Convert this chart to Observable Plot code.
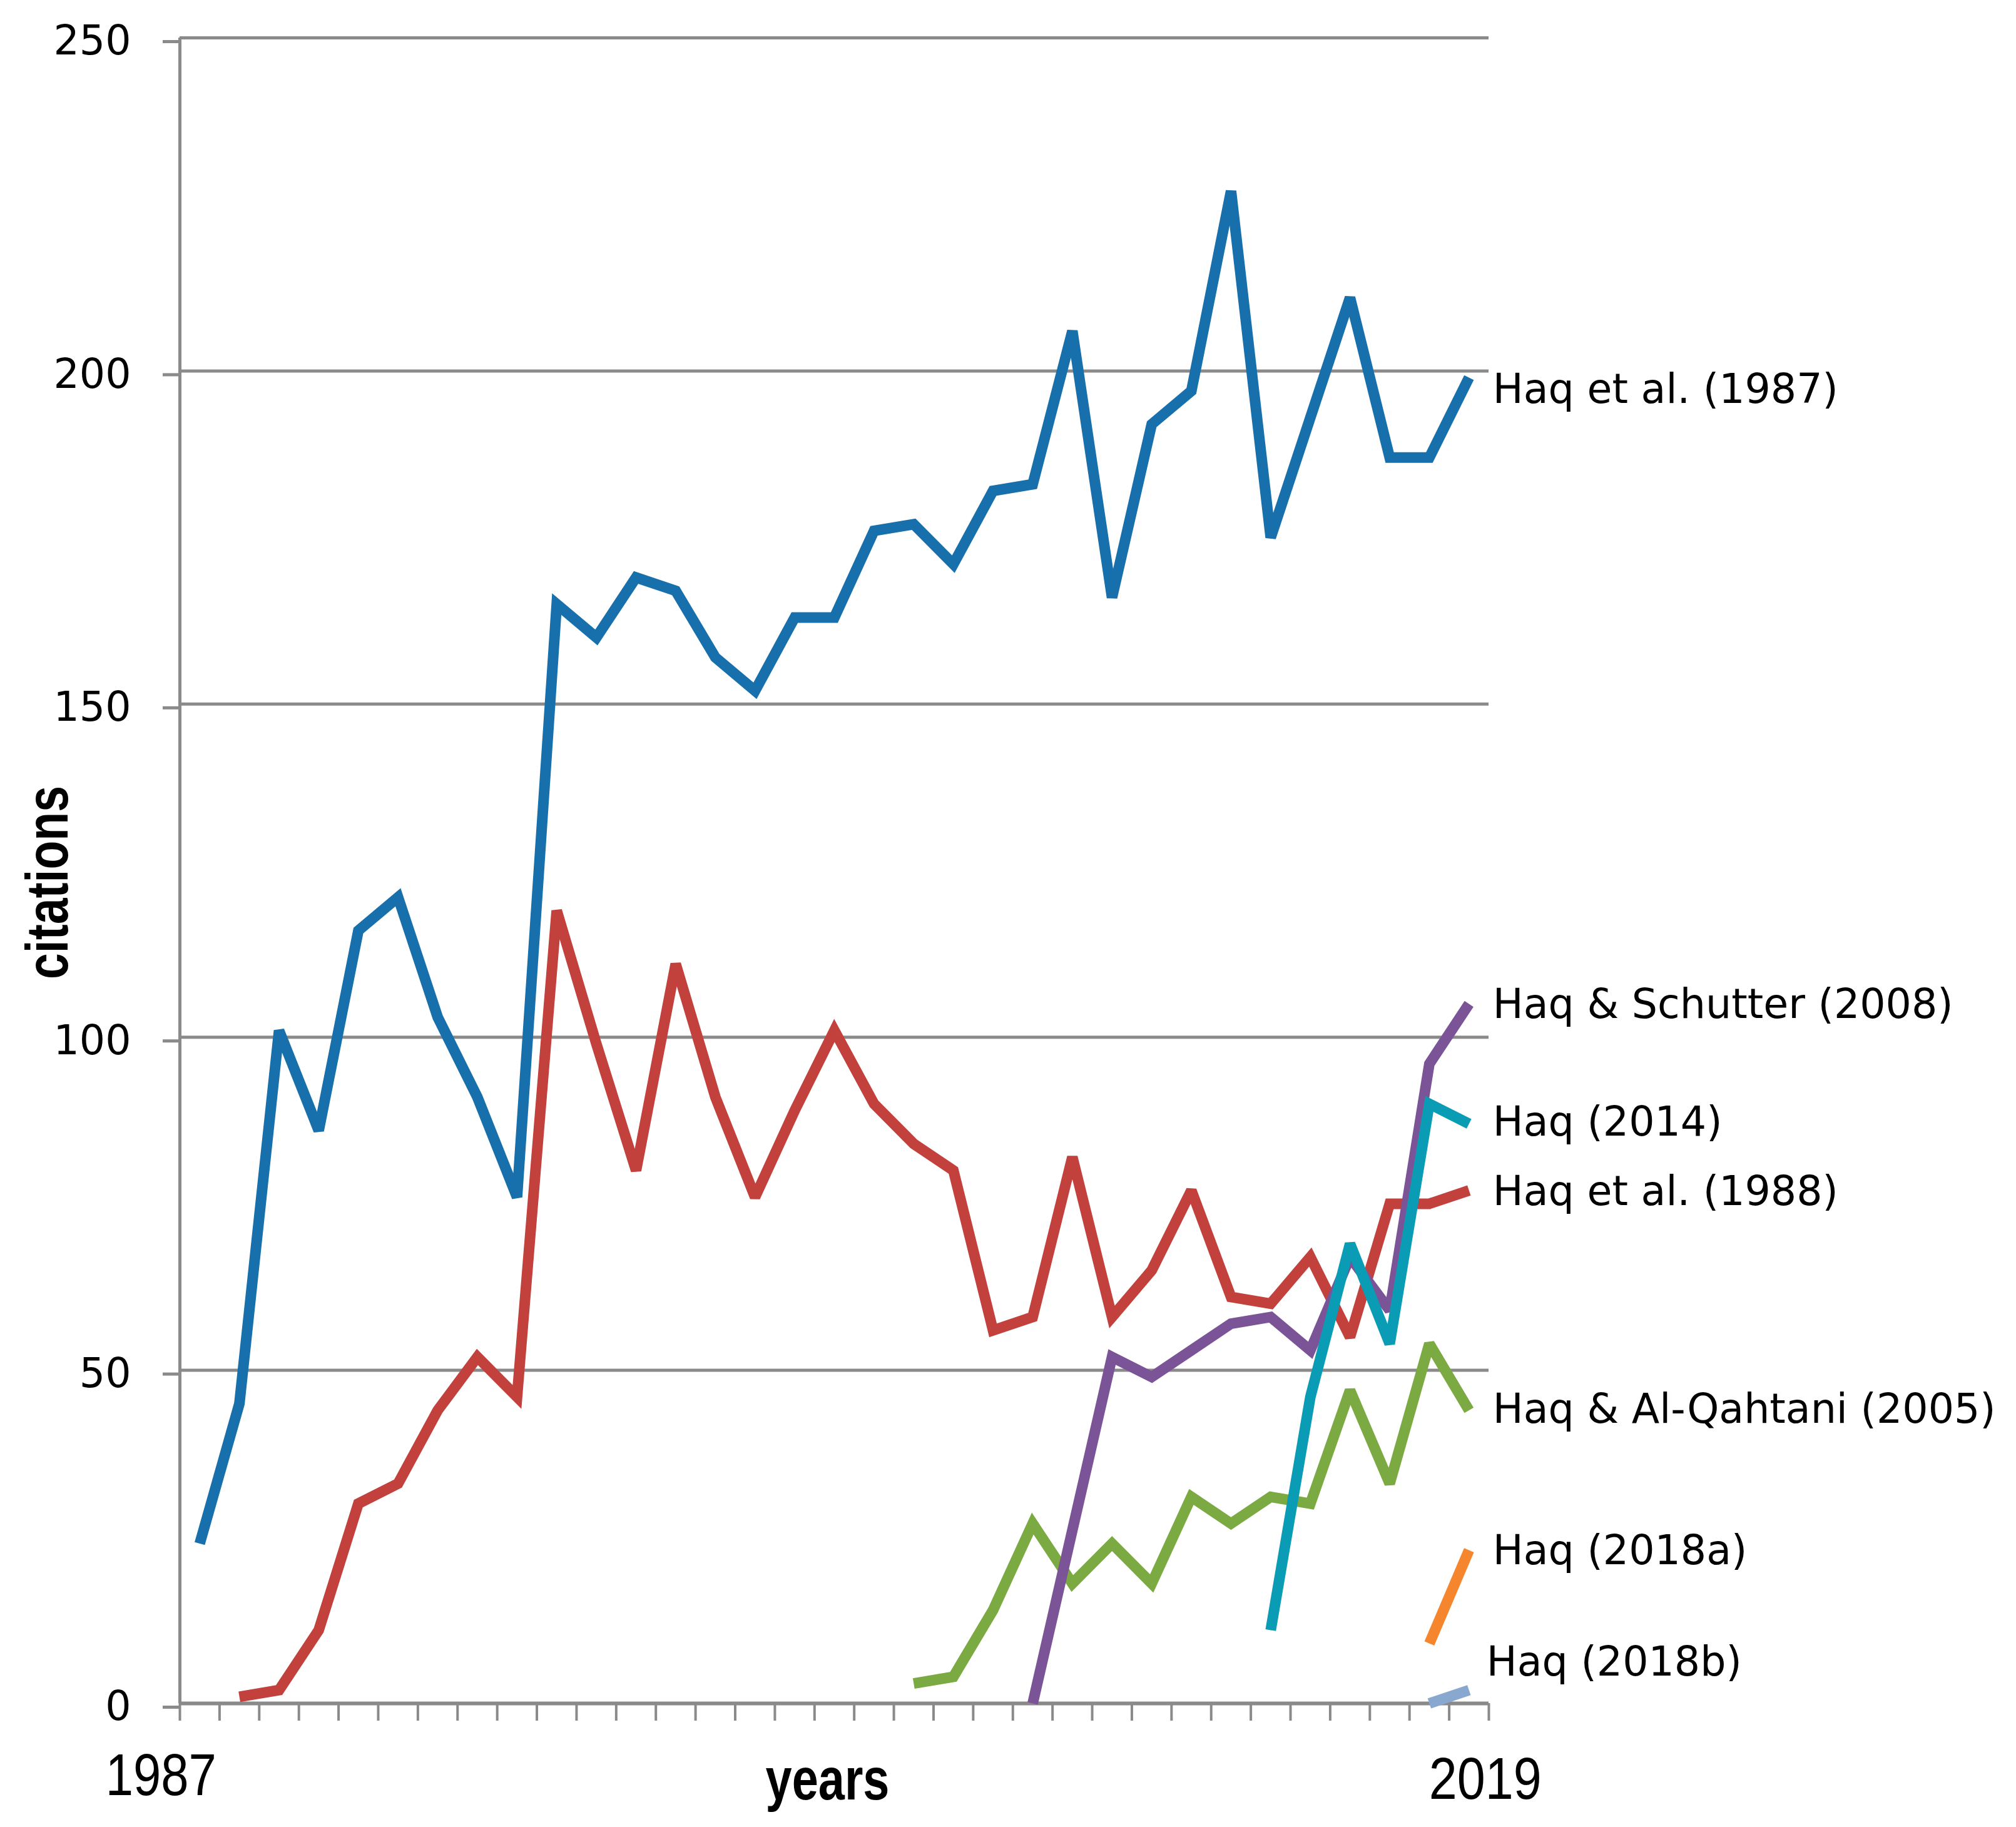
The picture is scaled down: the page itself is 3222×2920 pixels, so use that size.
<!DOCTYPE html>
<html>
<head>
<meta charset="utf-8">
<script src="https://cdn.jsdelivr.net/npm/d3@7"></script>
<script src="https://cdn.jsdelivr.net/npm/@observablehq/plot@0.6"></script>
<style>
  html, body { margin: 0; padding: 0; background: #ffffff; overflow: hidden; }
  #chart svg { display: block; }
</style>
</head>
<body>
<div id="chart"></div>
<script>
// ---------- data ----------
const years = [1987, 1988, 1989, 1990, 1991, 1992, 1993, 1994, 1995, 1996, 1997,
               1998, 1999, 2000, 2001, 2002, 2003, 2004, 2005, 2006, 2007, 2008,
               2009, 2010, 2011, 2012, 2013, 2014, 2015, 2016, 2017, 2018, 2019];
const yTicks = [0, 50, 100, 150, 200, 250];
const xEndLabels = ["1987", "2019"];
const xTitle = "years";
const yTitle = "citations";

const seriesNames = ["Haq et al. (1987)", "Haq et al. (1988)", "Haq & Al-Qahtani (2005)",
                     "Haq & Schutter (2008)", "Haq (2014)", "Haq (2018a)", "Haq (2018b)"];
const seriesStart = [1987, 1988, 2005, 2008, 2014, 2018, 2018];

const haq1987 = [24, 45, 101, 86, 116, 121, 103, 91, 76, 165, 160, 169, 167, 157, 152, 163, 163,
                 176, 177, 171, 182, 183, 206, 166, 192, 197, 227, 175, 193, 211, 187, 187, 199];
const haq1988 = [1, 2, 11, 30, 33, 44, 52, 46, 119, 99, 80, 111, 91, 76, 89, 101,
                 90, 84, 80, 56, 58, 82, 58, 65, 77, 61, 60, 67, 55, 75, 75, 77];
const haqAlQahtani2005 = [3, 4, 14, 27, 18, 24, 18, 31, 27, 31, 30, 47, 33, 54, 44];
const haqSchutter2008 = [0, 26, 52, 49, 53, 57, 58, 53, 67, 59, 96, 105];
const haq2014 = [11, 46, 69, 54, 90, 87];
const haq2018a = [9, 23];
const haq2018b = [0, 2];

const seriesValues = [haq1987, haq1988, haqAlQahtani2005, haqSchutter2008, haq2014, haq2018a, haq2018b];

// ---------- styles ----------
const seriesColors = ["#1770ab", "#c2413d", "#7baa42", "#7b5498", "#0a9cb5", "#f5862e", "#88a8d0"];
const labelDx = [38, 38, 38, 38, 38, 38, 28];
const labelDy = [20, 3, -1, 2, -2, 2, -44];
const gray = "#8a8a8a";
const labelFont = "DejaVu Sans, Verdana, sans-serif";
const narrowFont = "Liberation Sans, Arial, sans-serif";

// ---------- build table ----------
const rows = [];
seriesNames.forEach((name, s) => {
  const start = years.indexOf(seriesStart[s]);
  seriesValues[s].forEach((v, j) => rows.push({series: name, year: years[start + j], value: v}));
});
const xEdges = years.map(y => y - 0.5).concat([years[years.length - 1] + 0.5]);

const lineMarks = seriesNames.map((name, i) =>
  Plot.line(rows.filter(r => r.series === name), {
    x: "year", y: "value",
    stroke: seriesColors[i], strokeWidth: 17,
    strokeLinecap: "butt", strokeLinejoin: "miter", strokeMiterlimit: 2.5
  })
);

const labelMarks = seriesNames.map((name, i) => {
  const pts = rows.filter(r => r.series === name);
  const last = pts[pts.length - 1];
  return Plot.text([last], {
    x: "year", y: "value", text: () => name,
    textAnchor: "start", dx: labelDx[i], dy: labelDy[i],
    fontSize: 65, fontFamily: labelFont, fill: "#000"
  });
});

const chart = Plot.plot({
  width: 3222,
  height: 2920,
  marginLeft: 287,
  marginRight: 843,
  marginTop: 60,
  marginBottom: 198,
  style: {background: "#ffffff", color: "#000", fontFamily: labelFont, fontSize: "65px"},
  x: {type: "linear", domain: [xEdges[0], xEdges[xEdges.length - 1]]},
  y: {type: "linear", domain: [0, 250]},
  marks: [
    Plot.ruleY(yTicks, {stroke: gray, strokeWidth: 5}),
    Plot.axisY({
      ticks: yTicks, tickSize: 27, tickPadding: 51, tickFormat: d => String(d),
      stroke: gray, strokeWidth: 5, label: null, fontSize: 65, fontFamily: labelFont,
      fill: "#000", dy: 6
    }),
    Plot.ruleX([xEdges[0]], {stroke: gray, strokeWidth: 5}),
    Plot.axisX({
      ticks: xEdges, tickSize: 28, tickFormat: () => "",
      stroke: gray, strokeWidth: 4, label: null
    }),
    Plot.ruleY([0], {stroke: gray, strokeWidth: 6}),
    ...lineMarks,
    ...labelMarks,
    Plot.text([xEndLabels[0]], {
      x: () => +xEndLabels[0], frameAnchor: "bottom", text: d => d,
      lineAnchor: "bottom", textAnchor: "middle", dx: -62, dy: 146,
      fontSize: 95, fontFamily: narrowFont, fill: "#000"
    }),
    Plot.text([xEndLabels[1]], {
      x: () => +xEndLabels[1], frameAnchor: "bottom", text: d => d,
      lineAnchor: "bottom", textAnchor: "middle", dx: 26, dy: 152,
      fontSize: 95, fontFamily: narrowFont, fill: "#000"
    }),
    Plot.text([xTitle], {
      frameAnchor: "bottom", text: d => d, lineAnchor: "bottom", textAnchor: "middle",
      dx: -11, dy: 153, fontSize: 94, fontWeight: "bold", fontFamily: narrowFont, fill: "#000"
    }),
    Plot.text([yTitle], {
      frameAnchor: "left", text: d => d, rotate: -90, lineAnchor: "bottom", textAnchor: "middle",
      dx: -180, dy: 19, fontSize: 94, fontWeight: "bold", fontFamily: narrowFont, fill: "#000"
    })
  ]
});

// condense the narrow-font texts to the reference's widths
const condensed = {"1987": 177, "2019": 180, "years": 198, "citations": 309};
d3.select(chart).selectAll("text").each(function () {
  const t = this.textContent;
  if (condensed[t] !== undefined && this.childElementCount === 0) {
    this.setAttribute("textLength", condensed[t]);
    this.setAttribute("lengthAdjust", "spacingAndGlyphs");
  }
});

document.getElementById("chart").appendChild(chart);
</script>
</body>
</html>
